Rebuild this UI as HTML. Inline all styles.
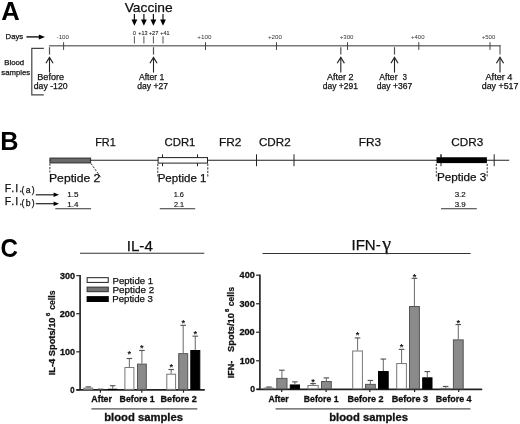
<!DOCTYPE html>
<html><head><meta charset="utf-8"><title>Figure</title><style>
html,body{margin:0;padding:0;background:#fff;}
body{width:520px;height:424px;overflow:hidden;}
svg{display:block;}
text{font-family:"Liberation Sans", Arial, Helvetica, sans-serif;}
</style></head><body>
<svg width="520" height="424" viewBox="0 0 520 424">
<rect width="520" height="424" fill="#fff"/>
<text x="1.36" y="19.5" font-size="25.2" font-weight="bold" fill="#000" textLength="18.51" lengthAdjust="spacingAndGlyphs">A</text>
<text x="124.66" y="11.8" font-size="13.3" stroke="#111" stroke-width="0.25" fill="#111" textLength="48.03" lengthAdjust="spacingAndGlyphs">Vaccine</text>
<line x1="134.4" y1="13.9" x2="134.4" y2="21" stroke="#111" stroke-width="1.2" />
<polygon points="131.5,19.6 137.3,19.6 134.4,25.7" fill="#000" stroke="none" stroke-width="1"/>
<line x1="134.4" y1="36.2" x2="134.4" y2="43.5" stroke="#555" stroke-width="1.0" />
<line x1="143.9" y1="13.9" x2="143.9" y2="21" stroke="#111" stroke-width="1.2" />
<polygon points="141,19.6 146.8,19.6 143.9,25.7" fill="#000" stroke="none" stroke-width="1"/>
<line x1="143.9" y1="36.2" x2="143.9" y2="43.5" stroke="#555" stroke-width="1.0" />
<line x1="153.4" y1="13.9" x2="153.4" y2="21" stroke="#111" stroke-width="1.2" />
<polygon points="150.5,19.6 156.3,19.6 153.4,25.7" fill="#000" stroke="none" stroke-width="1"/>
<line x1="153.4" y1="36.2" x2="153.4" y2="43.5" stroke="#555" stroke-width="1.0" />
<line x1="163" y1="13.9" x2="163" y2="21" stroke="#111" stroke-width="1.2" />
<polygon points="160.1,19.6 165.9,19.6 163,25.7" fill="#000" stroke="none" stroke-width="1"/>
<line x1="163" y1="36.2" x2="163" y2="43.5" stroke="#555" stroke-width="1.0" />
<text x="133.05" y="34.5" font-size="5.4" stroke="#222" stroke-width="0.1" fill="#222" textLength="2.91" lengthAdjust="spacingAndGlyphs">0</text>
<text x="138.28" y="34.5" font-size="5.4" stroke="#222" stroke-width="0.1" fill="#222" textLength="9.31" lengthAdjust="spacingAndGlyphs">+13</text>
<text x="148.77" y="34.5" font-size="5.4" stroke="#222" stroke-width="0.1" fill="#222" textLength="9.77" lengthAdjust="spacingAndGlyphs">+27</text>
<text x="160.29" y="34.5" font-size="5.4" stroke="#222" stroke-width="0.1" fill="#222" textLength="9.13" lengthAdjust="spacingAndGlyphs">+41</text>
<text x="5.59" y="39.4" font-size="7.9" stroke="#111" stroke-width="0.25" fill="#111" textLength="17.67" lengthAdjust="spacingAndGlyphs">Days</text>
<line x1="26.4" y1="36.9" x2="40" y2="36.9" stroke="#222" stroke-width="1.5" />
<polygon points="38.8,34.4 45,36.9 38.8,39.4" fill="#000" stroke="none" stroke-width="1"/>
<line x1="49.1" y1="45.8" x2="500.6" y2="45.8" stroke="#787878" stroke-width="1.6" />
<line x1="63.6" y1="42.2" x2="63.6" y2="49.9" stroke="#444" stroke-width="1.0" />
<text x="56.63" y="39" font-size="6" fill="#333" textLength="12.37" lengthAdjust="spacingAndGlyphs">-100</text>
<line x1="205.5" y1="42.2" x2="205.5" y2="49.9" stroke="#444" stroke-width="1.0" />
<text x="197.19" y="39" font-size="6" fill="#333" textLength="14.31" lengthAdjust="spacingAndGlyphs">+100</text>
<line x1="276.5" y1="42.2" x2="276.5" y2="49.9" stroke="#444" stroke-width="1.0" />
<text x="267.94" y="39" font-size="6" fill="#333" textLength="14.05" lengthAdjust="spacingAndGlyphs">+200</text>
<line x1="347.5" y1="42.2" x2="347.5" y2="49.9" stroke="#444" stroke-width="1.0" />
<text x="339.7" y="39" font-size="6" fill="#333" textLength="13.79" lengthAdjust="spacingAndGlyphs">+300</text>
<line x1="418.8" y1="42.2" x2="418.8" y2="49.9" stroke="#444" stroke-width="1.0" />
<text x="410.96" y="39" font-size="6" fill="#333" textLength="13.53" lengthAdjust="spacingAndGlyphs">+400</text>
<line x1="490" y1="42.2" x2="490" y2="49.9" stroke="#444" stroke-width="1.0" />
<text x="481.71" y="39" font-size="6" fill="#333" textLength="13.53" lengthAdjust="spacingAndGlyphs">+500</text>
<polyline points="43.8,48.4 31.8,48.4 31.8,94.9 43.8,94.9" fill="none" stroke="#444" stroke-width="1.2" />
<text x="4.29" y="64.8" font-size="7.8" stroke="#111" stroke-width="0.25" fill="#111" textLength="19.89" lengthAdjust="spacingAndGlyphs">Blood</text>
<text x="1.31" y="74.5" font-size="7.8" stroke="#111" stroke-width="0.25" fill="#111" textLength="28.84" lengthAdjust="spacingAndGlyphs">samples</text>
<line x1="49.5" y1="47.2" x2="49.5" y2="54.6" stroke="#505050" stroke-width="1.2" />
<line x1="49.5" y1="57.4" x2="49.5" y2="72.6" stroke="#222" stroke-width="1.1" />
<polyline points="45.9,63.3 49.5,57.4 53.1,63.3" fill="none" stroke="#222" stroke-width="1.15" />
<line x1="153.5" y1="47.2" x2="153.5" y2="54.6" stroke="#505050" stroke-width="1.2" />
<line x1="153.5" y1="57.4" x2="153.5" y2="72.6" stroke="#222" stroke-width="1.1" />
<polyline points="149.9,63.3 153.5,57.4 157.1,63.3" fill="none" stroke="#222" stroke-width="1.15" />
<line x1="340.8" y1="47.2" x2="340.8" y2="54.6" stroke="#505050" stroke-width="1.2" />
<line x1="340.8" y1="57.4" x2="340.8" y2="72.6" stroke="#222" stroke-width="1.1" />
<polyline points="337.2,63.3 340.8,57.4 344.4,63.3" fill="none" stroke="#222" stroke-width="1.15" />
<line x1="394.5" y1="47.2" x2="394.5" y2="54.6" stroke="#505050" stroke-width="1.2" />
<line x1="394.5" y1="57.4" x2="394.5" y2="72.6" stroke="#222" stroke-width="1.1" />
<polyline points="390.9,63.3 394.5,57.4 398.1,63.3" fill="none" stroke="#222" stroke-width="1.15" />
<line x1="500" y1="45" x2="500" y2="54.6" stroke="#606060" stroke-width="1.2" />
<line x1="500" y1="57.4" x2="500" y2="72.6" stroke="#222" stroke-width="1.1" />
<polyline points="496.4,63.3 500,57.4 503.6,63.3" fill="none" stroke="#222" stroke-width="1.15" />
<text x="37.28" y="80.4" font-size="9" stroke="#111" stroke-width="0.25" fill="#111" textLength="26.8" lengthAdjust="spacingAndGlyphs">Before</text>
<text x="33.76" y="89.3" font-size="9" stroke="#111" stroke-width="0.25" fill="#111" textLength="33.86" lengthAdjust="spacingAndGlyphs">day -120</text>
<text x="138.91" y="80.4" font-size="9" stroke="#111" stroke-width="0.25" fill="#111" textLength="25.49" lengthAdjust="spacingAndGlyphs">After 1</text>
<text x="137.26" y="89.3" font-size="9" stroke="#111" stroke-width="0.25" fill="#111" textLength="30.74" lengthAdjust="spacingAndGlyphs">day +27</text>
<text x="326.91" y="80.4" font-size="9" stroke="#111" stroke-width="0.25" fill="#111" textLength="26.52" lengthAdjust="spacingAndGlyphs">After 2</text>
<text x="322.77" y="89.3" font-size="9" stroke="#111" stroke-width="0.25" fill="#111" textLength="35.13" lengthAdjust="spacingAndGlyphs">day +291</text>
<text x="379.31" y="80.4" font-size="9" stroke="#111" stroke-width="0.25" fill="#111" textLength="18.21" lengthAdjust="spacingAndGlyphs">After</text>
<text x="402.84" y="80.4" font-size="9" stroke="#111" stroke-width="0.25" fill="#111" textLength="4.17" lengthAdjust="spacingAndGlyphs">3</text>
<text x="376.77" y="89.3" font-size="9" stroke="#111" stroke-width="0.25" fill="#111" textLength="35.44" lengthAdjust="spacingAndGlyphs">day +367</text>
<text x="485.51" y="80.4" font-size="9" stroke="#111" stroke-width="0.25" fill="#111" textLength="26.93" lengthAdjust="spacingAndGlyphs">After 4</text>
<text x="481.75" y="89.3" font-size="9" stroke="#111" stroke-width="0.25" fill="#111" textLength="36.67" lengthAdjust="spacingAndGlyphs">day +517</text>
<text x="0.36" y="149.6" font-size="25.5" font-weight="bold" fill="#000" textLength="18.28" lengthAdjust="spacingAndGlyphs">B</text>
<text x="95.23" y="146.25" font-size="11.8" stroke="#111" stroke-width="0.25" fill="#111" textLength="20.58" lengthAdjust="spacingAndGlyphs">FR1</text>
<text x="164.55" y="146.25" font-size="11.8" stroke="#111" stroke-width="0.25" fill="#111" textLength="30.88" lengthAdjust="spacingAndGlyphs">CDR1</text>
<text x="218.95" y="146.25" font-size="11.8" stroke="#111" stroke-width="0.25" fill="#111" textLength="22.42" lengthAdjust="spacingAndGlyphs">FR2</text>
<text x="258.93" y="146.25" font-size="11.8" stroke="#111" stroke-width="0.25" fill="#111" textLength="31.72" lengthAdjust="spacingAndGlyphs">CDR2</text>
<text x="358.66" y="146.25" font-size="11.8" stroke="#111" stroke-width="0.25" fill="#111" textLength="22.34" lengthAdjust="spacingAndGlyphs">FR3</text>
<text x="451.33" y="146.25" font-size="11.8" stroke="#111" stroke-width="0.25" fill="#111" textLength="31.86" lengthAdjust="spacingAndGlyphs">CDR3</text>
<line x1="49.5" y1="160.3" x2="509.2" y2="160.3" stroke="#222" stroke-width="1.1" />
<line x1="256.5" y1="154.3" x2="256.5" y2="166.2" stroke="#222" stroke-width="1.0" />
<line x1="294" y1="154.3" x2="294" y2="166.2" stroke="#222" stroke-width="1.0" />
<line x1="441" y1="154.3" x2="441" y2="166.2" stroke="#222" stroke-width="1.0" />
<line x1="494.2" y1="154.3" x2="494.2" y2="166.2" stroke="#222" stroke-width="1.0" />
<rect x="49.95" y="158.05" width="40.7" height="4.9" fill="#6a6a6a" stroke="#222" stroke-width="0.9"/>
<line x1="162.5" y1="154.4" x2="162.5" y2="166.2" stroke="#222" stroke-width="1.0" />
<line x1="197.5" y1="154.4" x2="197.5" y2="166.2" stroke="#222" stroke-width="1.0" />
<rect x="158.1" y="157.6" width="49.4" height="5.5" fill="#fff" stroke="#222" stroke-width="1.0"/>
<rect x="436.5" y="157.25" width="50.4" height="5.85" fill="#000" stroke="none" stroke-width="1"/>
<line x1="441" y1="154.4" x2="441" y2="157.4" stroke="#222" stroke-width="1.0" />
<line x1="49.9" y1="163.5" x2="49.9" y2="172.5" stroke="#333" stroke-width="1.0" stroke-dasharray="2.2,1.3"/>
<line x1="91" y1="163.5" x2="101.2" y2="178" stroke="#333" stroke-width="1.0" stroke-dasharray="2.2,1.3"/>
<line x1="157.8" y1="163.8" x2="157.8" y2="176.5" stroke="#333" stroke-width="1.0" stroke-dasharray="2.2,1.3"/>
<line x1="207.8" y1="163.8" x2="207.8" y2="176.5" stroke="#333" stroke-width="1.0" stroke-dasharray="2.2,1.3"/>
<line x1="436.3" y1="163.8" x2="436.3" y2="176.5" stroke="#333" stroke-width="1.0" stroke-dasharray="2.2,1.3"/>
<line x1="487.2" y1="163.8" x2="487.2" y2="176.5" stroke="#333" stroke-width="1.0" stroke-dasharray="2.2,1.3"/>
<text x="49.03" y="181.6" font-size="11.3" stroke="#111" stroke-width="0.25" fill="#111" textLength="51.36" lengthAdjust="spacingAndGlyphs">Peptide 2</text>
<text x="157.68" y="181.6" font-size="11.3" stroke="#111" stroke-width="0.25" fill="#111" textLength="48.77" lengthAdjust="spacingAndGlyphs">Peptide 1</text>
<text x="436.91" y="181.4" font-size="11.3" stroke="#111" stroke-width="0.25" fill="#111" textLength="49.48" lengthAdjust="spacingAndGlyphs">Peptide 3</text>
<text x="4.76" y="192.1" font-size="10.6" stroke="#111" stroke-width="0.25" fill="#111" textLength="17.38" lengthAdjust="spacing">F.I.</text>
<text x="21.49" y="193" font-size="8.6" stroke="#111" stroke-width="0.25" fill="#111" textLength="13.22" lengthAdjust="spacing">(a)</text>
<text x="4.76" y="205.2" font-size="10.6" stroke="#111" stroke-width="0.25" fill="#111" textLength="17.38" lengthAdjust="spacing">F.I.</text>
<text x="21.49" y="206.1" font-size="8.6" stroke="#111" stroke-width="0.25" fill="#111" textLength="13.22" lengthAdjust="spacing">(b)</text>
<line x1="35.8" y1="194.8" x2="55" y2="194.8" stroke="#222" stroke-width="1.2" />
<polygon points="53.6,192.6 59,194.8 53.6,197" fill="#000" stroke="none" stroke-width="1"/>
<line x1="35.8" y1="203.7" x2="55" y2="203.7" stroke="#222" stroke-width="1.2" />
<polygon points="53.6,201.5 59,203.7 53.6,205.9" fill="#000" stroke="none" stroke-width="1"/>
<text x="67.26" y="196.8" font-size="7.5" stroke="#111" stroke-width="0.15" fill="#111" textLength="11.31" lengthAdjust="spacingAndGlyphs">1.5</text>
<text x="67.26" y="206.7" font-size="7.5" stroke="#111" stroke-width="0.15" fill="#111" textLength="11.2" lengthAdjust="spacingAndGlyphs">1.4</text>
<line x1="55.3" y1="208.7" x2="91.1" y2="208.7" stroke="#333" stroke-width="1.1" />
<text x="173.72" y="196.8" font-size="7.5" stroke="#111" stroke-width="0.15" fill="#111" textLength="10.23" lengthAdjust="spacingAndGlyphs">1.6</text>
<text x="173.91" y="206.7" font-size="7.5" stroke="#111" stroke-width="0.15" fill="#111" textLength="10.07" lengthAdjust="spacingAndGlyphs">2.1</text>
<line x1="159.8" y1="208.7" x2="195.2" y2="208.7" stroke="#333" stroke-width="1.1" />
<text x="454.67" y="196.8" font-size="7.5" stroke="#111" stroke-width="0.15" fill="#111" textLength="11.05" lengthAdjust="spacingAndGlyphs">3.2</text>
<text x="454.67" y="206.7" font-size="7.5" stroke="#111" stroke-width="0.15" fill="#111" textLength="11.03" lengthAdjust="spacingAndGlyphs">3.9</text>
<line x1="441" y1="208.7" x2="476.8" y2="208.7" stroke="#333" stroke-width="1.1" />
<text x="0.51" y="256.8" font-size="25.5" font-weight="bold" fill="#000" textLength="17.45" lengthAdjust="spacingAndGlyphs">C</text>
<text x="126.73" y="250.75" font-size="14.8" stroke="#111" stroke-width="0.25" fill="#111" textLength="26.08" lengthAdjust="spacingAndGlyphs">IL-4</text>
<line x1="80" y1="253.3" x2="204.3" y2="253.3" stroke="#333" stroke-width="1.1" />
<text x="351.54" y="250" font-size="14.7" stroke="#111" stroke-width="0.25" fill="#111" textLength="29.19" lengthAdjust="spacingAndGlyphs">IFN-</text>
<text x="382.24" y="249.6" font-size="18.9" stroke="#111" stroke-width="0.25" style="font-family:'Liberation Serif', serif" fill="#111" textLength="8.79" lengthAdjust="spacingAndGlyphs">γ</text>
<line x1="262.5" y1="253.5" x2="470.6" y2="253.5" stroke="#333" stroke-width="1.1" />
<line x1="80.1" y1="275" x2="80.1" y2="389.9" stroke="#333" stroke-width="1.8" />
<line x1="76.3" y1="275.6" x2="80.1" y2="275.6" stroke="#333" stroke-width="1.3" />
<text x="60.04" y="278.75" font-size="9.2" font-weight="bold" stroke="#111" stroke-width="0.3" fill="#111" textLength="15.08" lengthAdjust="spacingAndGlyphs">300</text>
<line x1="76.3" y1="313.7" x2="80.1" y2="313.7" stroke="#333" stroke-width="1.3" />
<text x="59.73" y="316.85" font-size="9.2" font-weight="bold" stroke="#111" stroke-width="0.3" fill="#111" textLength="15.3" lengthAdjust="spacingAndGlyphs">200</text>
<line x1="76.3" y1="351.8" x2="80.1" y2="351.8" stroke="#333" stroke-width="1.3" />
<text x="60.09" y="354.95" font-size="9.2" font-weight="bold" stroke="#111" stroke-width="0.3" fill="#111" textLength="14.94" lengthAdjust="spacingAndGlyphs">100</text>
<line x1="76.3" y1="389.9" x2="80.1" y2="389.9" stroke="#333" stroke-width="1.3" />
<text x="70.34" y="393.05" font-size="9.2" font-weight="bold" stroke="#111" stroke-width="0.3" fill="#111" textLength="4.33" lengthAdjust="spacingAndGlyphs">0</text>
<line x1="76.3" y1="389.9" x2="204.8" y2="389.9" stroke="#222" stroke-width="1.8" />
<line x1="100.4" y1="389.9" x2="100.4" y2="392.7" stroke="#222" stroke-width="1.2" />
<line x1="141.8" y1="389.9" x2="141.8" y2="392.7" stroke="#222" stroke-width="1.2" />
<line x1="183.5" y1="389.9" x2="183.5" y2="392.7" stroke="#222" stroke-width="1.2" />
<text x="91.33" y="401.8" font-size="9.2" font-weight="bold" stroke="#111" stroke-width="0.3" fill="#111" textLength="20.66" lengthAdjust="spacingAndGlyphs">After</text>
<text x="119.56" y="401.8" font-size="9.2" font-weight="bold" stroke="#111" stroke-width="0.3" fill="#111" textLength="35.14" lengthAdjust="spacingAndGlyphs">Before 1</text>
<text x="160.54" y="401.8" font-size="9.2" font-weight="bold" stroke="#111" stroke-width="0.3" fill="#111" textLength="36.38" lengthAdjust="spacingAndGlyphs">Before 2</text>
<line x1="91.4" y1="408.9" x2="197.3" y2="408.9" stroke="#555" stroke-width="1.3" />
<text x="104.21" y="420.5" font-size="10.9" font-weight="bold" stroke="#111" stroke-width="0.3" fill="#111" textLength="78.81" lengthAdjust="spacingAndGlyphs">blood samples</text>
<rect x="83.9" y="388.11" width="8.9" height="1.29" fill="#fff" stroke="#777" stroke-width="1.0"/>
<line x1="88.35" y1="386.85" x2="88.35" y2="387.61" stroke="#7a7a7a" stroke-width="1.15" />
<line x1="85.55" y1="386.85" x2="91.15" y2="386.85" stroke="#555" stroke-width="1.15" />
<rect x="96.3" y="390.02" width="8.5" height="-0.62" fill="#8a8a8a" stroke="#555" stroke-width="1.0"/>
<line x1="100.55" y1="389.14" x2="100.55" y2="389.52" stroke="#7a7a7a" stroke-width="1.15" />
<line x1="97.75" y1="389.14" x2="103.35" y2="389.14" stroke="#555" stroke-width="1.15" />
<rect x="108.4" y="389.26" width="8.5" height="0.14" fill="#000" stroke="#000" stroke-width="1.0"/>
<line x1="112.65" y1="385.71" x2="112.65" y2="388.76" stroke="#7a7a7a" stroke-width="1.15" />
<line x1="109.85" y1="385.71" x2="115.45" y2="385.71" stroke="#555" stroke-width="1.15" />
<rect x="124.9" y="367.54" width="9" height="21.86" fill="#fff" stroke="#777" stroke-width="1.0"/>
<line x1="129.4" y1="358.51" x2="129.4" y2="367.04" stroke="#7a7a7a" stroke-width="1.15" />
<line x1="126.6" y1="358.51" x2="132.2" y2="358.51" stroke="#555" stroke-width="1.15" />
<text x="127.6" y="356.92" font-size="9.2" font-weight="bold" fill="#111">*</text>
<rect x="137.5" y="364.11" width="8.8" height="25.29" fill="#8a8a8a" stroke="#555" stroke-width="1.0"/>
<line x1="141.9" y1="350.47" x2="141.9" y2="363.61" stroke="#7a7a7a" stroke-width="1.15" />
<line x1="139.1" y1="350.47" x2="144.7" y2="350.47" stroke="#555" stroke-width="1.15" />
<text x="140.1" y="350.62" font-size="9.2" font-weight="bold" fill="#111">*</text>
<rect x="166.8" y="374.21" width="8.8" height="15.19" fill="#fff" stroke="#777" stroke-width="1.0"/>
<line x1="171.2" y1="369.52" x2="171.2" y2="373.71" stroke="#7a7a7a" stroke-width="1.15" />
<line x1="168.4" y1="369.52" x2="174" y2="369.52" stroke="#555" stroke-width="1.15" />
<text x="169.4" y="369.82" font-size="9.2" font-weight="bold" fill="#111">*</text>
<rect x="178.7" y="353.63" width="9" height="35.77" fill="#8a8a8a" stroke="#555" stroke-width="1.0"/>
<line x1="183.2" y1="325.32" x2="183.2" y2="353.13" stroke="#7a7a7a" stroke-width="1.15" />
<line x1="180.4" y1="325.32" x2="186" y2="325.32" stroke="#555" stroke-width="1.15" />
<text x="181.4" y="326.32" font-size="9.2" font-weight="bold" fill="#111">*</text>
<rect x="190.8" y="350.51" width="9" height="38.89" fill="#000" stroke="#000" stroke-width="1.0"/>
<line x1="195.3" y1="336.18" x2="195.3" y2="350.01" stroke="#7a7a7a" stroke-width="1.15" />
<line x1="192.5" y1="336.18" x2="198.1" y2="336.18" stroke="#555" stroke-width="1.15" />
<text x="193.5" y="337.32" font-size="9.2" font-weight="bold" fill="#111">*</text>
<text transform="translate(54.7,374.65) rotate(-90)" x="-0.62" y="0" font-size="9.5" font-weight="bold" stroke="#111" stroke-width="0.3" fill="#111" textLength="57.7" lengthAdjust="spacingAndGlyphs">IL-4 Spots/10</text>
<text transform="translate(50.2,315.95) rotate(-90)" x="-0.24" y="0" font-size="6" font-weight="bold" stroke="#111" stroke-width="0.3" fill="#111" textLength="3.57" lengthAdjust="spacingAndGlyphs">6</text>
<text transform="translate(54.6,309.5) rotate(-90)" x="-0.34" y="0" font-size="9" font-weight="bold" stroke="#111" stroke-width="0.2" fill="#111" textLength="19.3" lengthAdjust="spacingAndGlyphs">cells</text>
<rect x="87.15" y="277.65" width="21.1" height="4.8" fill="#fff" stroke="#333" stroke-width="1.1"/>
<rect x="87.15" y="287.15" width="21.1" height="4.5" fill="#747474" stroke="#3a3a3a" stroke-width="1.1"/>
<rect x="86.6" y="296.1" width="22.2" height="5.9" fill="#000" stroke="none" stroke-width="1"/>
<text x="112.54" y="283.7" font-size="9.6" stroke="#111" stroke-width="0.25" fill="#111" textLength="40.51" lengthAdjust="spacingAndGlyphs">Peptide 1</text>
<text x="112.51" y="292.5" font-size="9.6" stroke="#111" stroke-width="0.25" fill="#111" textLength="41.76" lengthAdjust="spacingAndGlyphs">Peptide 2</text>
<text x="112.23" y="302" font-size="9.6" stroke="#111" stroke-width="0.25" fill="#111" textLength="40.77" lengthAdjust="spacingAndGlyphs">Peptide 3</text>
<line x1="259.9" y1="274.6" x2="259.9" y2="389.3" stroke="#333" stroke-width="1.8" />
<line x1="256.1" y1="275.2" x2="259.9" y2="275.2" stroke="#333" stroke-width="1.3" />
<text x="239.61" y="278.35" font-size="9.2" font-weight="bold" stroke="#111" stroke-width="0.3" fill="#111" textLength="15.11" lengthAdjust="spacingAndGlyphs">400</text>
<line x1="256.1" y1="303.73" x2="259.9" y2="303.73" stroke="#333" stroke-width="1.3" />
<text x="239.54" y="306.88" font-size="9.2" font-weight="bold" stroke="#111" stroke-width="0.3" fill="#111" textLength="15.19" lengthAdjust="spacingAndGlyphs">300</text>
<line x1="256.1" y1="332.25" x2="259.9" y2="332.25" stroke="#333" stroke-width="1.3" />
<text x="239.43" y="335.4" font-size="9.2" font-weight="bold" stroke="#111" stroke-width="0.3" fill="#111" textLength="15.3" lengthAdjust="spacingAndGlyphs">200</text>
<line x1="256.1" y1="360.77" x2="259.9" y2="360.77" stroke="#333" stroke-width="1.3" />
<text x="239.79" y="363.92" font-size="9.2" font-weight="bold" stroke="#111" stroke-width="0.3" fill="#111" textLength="14.94" lengthAdjust="spacingAndGlyphs">100</text>
<line x1="256.1" y1="389.3" x2="259.9" y2="389.3" stroke="#333" stroke-width="1.3" />
<text x="250.2" y="392.45" font-size="9.2" font-weight="bold" stroke="#111" stroke-width="0.3" fill="#111" textLength="4.8" lengthAdjust="spacingAndGlyphs">0</text>
<line x1="256.7" y1="389.3" x2="482.2" y2="389.3" stroke="#222" stroke-width="1.8" />
<line x1="281.7" y1="389.3" x2="281.7" y2="392.1" stroke="#222" stroke-width="1.2" />
<line x1="326.1" y1="389.3" x2="326.1" y2="392.1" stroke="#222" stroke-width="1.2" />
<line x1="369.8" y1="389.3" x2="369.8" y2="392.1" stroke="#222" stroke-width="1.2" />
<line x1="414.6" y1="389.3" x2="414.6" y2="392.1" stroke="#222" stroke-width="1.2" />
<line x1="458.7" y1="389.3" x2="458.7" y2="392.1" stroke="#222" stroke-width="1.2" />
<text x="268.43" y="401.8" font-size="9.2" font-weight="bold" stroke="#111" stroke-width="0.3" fill="#111" textLength="20.25" lengthAdjust="spacingAndGlyphs">After</text>
<text x="303.87" y="401.8" font-size="9.2" font-weight="bold" stroke="#111" stroke-width="0.3" fill="#111" textLength="34.63" lengthAdjust="spacingAndGlyphs">Before 1</text>
<text x="347.44" y="401.8" font-size="9.2" font-weight="bold" stroke="#111" stroke-width="0.3" fill="#111" textLength="36.17" lengthAdjust="spacingAndGlyphs">Before 2</text>
<text x="391.64" y="401.8" font-size="9.2" font-weight="bold" stroke="#111" stroke-width="0.3" fill="#111" textLength="36.44" lengthAdjust="spacingAndGlyphs">Before 3</text>
<text x="435.75" y="401.8" font-size="9.2" font-weight="bold" stroke="#111" stroke-width="0.3" fill="#111" textLength="35.85" lengthAdjust="spacingAndGlyphs">Before 4</text>
<line x1="275.6" y1="408.9" x2="470.5" y2="408.9" stroke="#555" stroke-width="1.3" />
<text x="329.21" y="420.5" font-size="10.9" font-weight="bold" stroke="#111" stroke-width="0.3" fill="#111" textLength="78.81" lengthAdjust="spacingAndGlyphs">blood samples</text>
<rect x="264.1" y="388.09" width="9.6" height="0.71" fill="#fff" stroke="#777" stroke-width="1.0"/>
<line x1="268.9" y1="387.02" x2="268.9" y2="387.59" stroke="#7a7a7a" stroke-width="1.15" />
<line x1="266.1" y1="387.02" x2="271.7" y2="387.02" stroke="#555" stroke-width="1.15" />
<rect x="276.8" y="378.39" width="10.2" height="10.41" fill="#8a8a8a" stroke="#555" stroke-width="1.0"/>
<line x1="281.9" y1="370.19" x2="281.9" y2="377.89" stroke="#7a7a7a" stroke-width="1.15" />
<line x1="279.1" y1="370.19" x2="284.7" y2="370.19" stroke="#555" stroke-width="1.15" />
<rect x="290.3" y="384.95" width="9.2" height="3.85" fill="#000" stroke="#000" stroke-width="1.0"/>
<line x1="294.9" y1="381.88" x2="294.9" y2="384.45" stroke="#7a7a7a" stroke-width="1.15" />
<line x1="292.1" y1="381.88" x2="297.7" y2="381.88" stroke="#555" stroke-width="1.15" />
<rect x="307.9" y="385.52" width="10.3" height="3.28" fill="#fff" stroke="#777" stroke-width="1.0"/>
<line x1="313.05" y1="383.6" x2="313.05" y2="385.02" stroke="#7a7a7a" stroke-width="1.15" />
<line x1="310.25" y1="383.6" x2="315.85" y2="383.6" stroke="#555" stroke-width="1.15" />
<text x="311.25" y="384.62" font-size="9.2" font-weight="bold" fill="#111">*</text>
<rect x="321.5" y="381.53" width="9.8" height="7.27" fill="#8a8a8a" stroke="#555" stroke-width="1.0"/>
<line x1="326.4" y1="377.89" x2="326.4" y2="381.03" stroke="#7a7a7a" stroke-width="1.15" />
<line x1="323.6" y1="377.89" x2="329.2" y2="377.89" stroke="#555" stroke-width="1.15" />
<rect x="352.7" y="351.01" width="9.7" height="37.79" fill="#fff" stroke="#777" stroke-width="1.0"/>
<line x1="357.55" y1="337.95" x2="357.55" y2="350.51" stroke="#7a7a7a" stroke-width="1.15" />
<line x1="354.75" y1="337.95" x2="360.35" y2="337.95" stroke="#555" stroke-width="1.15" />
<text x="355.75" y="338.42" font-size="9.2" font-weight="bold" fill="#111">*</text>
<rect x="365.5" y="384.38" width="9.8" height="4.42" fill="#8a8a8a" stroke="#555" stroke-width="1.0"/>
<line x1="370.4" y1="380.46" x2="370.4" y2="383.88" stroke="#7a7a7a" stroke-width="1.15" />
<line x1="367.6" y1="380.46" x2="373.2" y2="380.46" stroke="#555" stroke-width="1.15" />
<rect x="378.5" y="371.54" width="9.7" height="17.26" fill="#000" stroke="#000" stroke-width="1.0"/>
<line x1="383.35" y1="359.06" x2="383.35" y2="371.04" stroke="#7a7a7a" stroke-width="1.15" />
<line x1="380.55" y1="359.06" x2="386.15" y2="359.06" stroke="#555" stroke-width="1.15" />
<rect x="396.7" y="363.56" width="9.7" height="25.24" fill="#fff" stroke="#777" stroke-width="1.0"/>
<line x1="401.55" y1="349.37" x2="401.55" y2="363.06" stroke="#7a7a7a" stroke-width="1.15" />
<line x1="398.75" y1="349.37" x2="404.35" y2="349.37" stroke="#555" stroke-width="1.15" />
<text x="399.75" y="349.72" font-size="9.2" font-weight="bold" fill="#111">*</text>
<rect x="409.5" y="306.51" width="9.9" height="82.29" fill="#8a8a8a" stroke="#555" stroke-width="1.0"/>
<line x1="414.45" y1="278.34" x2="414.45" y2="306.01" stroke="#7a7a7a" stroke-width="1.15" />
<line x1="411.65" y1="278.34" x2="417.25" y2="278.34" stroke="#555" stroke-width="1.15" />
<text x="412.65" y="279.52" font-size="9.2" font-weight="bold" fill="#111">*</text>
<rect x="422.7" y="377.82" width="9.3" height="10.98" fill="#000" stroke="#000" stroke-width="1.0"/>
<line x1="427.35" y1="371.61" x2="427.35" y2="377.32" stroke="#7a7a7a" stroke-width="1.15" />
<line x1="424.55" y1="371.61" x2="430.15" y2="371.61" stroke="#555" stroke-width="1.15" />
<rect x="440.7" y="388.37" width="9.8" height="0.43" fill="#fff" stroke="#777" stroke-width="1.0"/>
<line x1="445.6" y1="386.45" x2="445.6" y2="387.87" stroke="#7a7a7a" stroke-width="1.15" />
<line x1="442.8" y1="386.45" x2="448.4" y2="386.45" stroke="#555" stroke-width="1.15" />
<rect x="453.4" y="339.88" width="9.8" height="48.92" fill="#8a8a8a" stroke="#555" stroke-width="1.0"/>
<line x1="458.3" y1="324.55" x2="458.3" y2="339.38" stroke="#7a7a7a" stroke-width="1.15" />
<line x1="455.5" y1="324.55" x2="461.1" y2="324.55" stroke="#555" stroke-width="1.15" />
<text x="456.5" y="325.82" font-size="9.2" font-weight="bold" fill="#111">*</text>
<text transform="translate(234.4,377.75) rotate(-90)" x="-0.61" y="0" font-size="9.5" font-weight="bold" stroke="#111" stroke-width="0.3" fill="#111" textLength="17.67" lengthAdjust="spacingAndGlyphs">IFN-</text>
<text transform="translate(234.4,351.65) rotate(-90)" x="-0.27" y="0" font-size="9.5" font-weight="bold" stroke="#111" stroke-width="0.3" fill="#111" textLength="38.85" lengthAdjust="spacingAndGlyphs">Spots/10</text>
<text transform="translate(229.4,311.75) rotate(-90)" x="-0.21" y="0" font-size="6" font-weight="bold" stroke="#111" stroke-width="0.3" fill="#111" textLength="3.22" lengthAdjust="spacingAndGlyphs">6</text>
<text transform="translate(234.4,305.9) rotate(-90)" x="-0.34" y="0" font-size="9" font-weight="bold" stroke="#111" stroke-width="0.2" fill="#111" textLength="19.19" lengthAdjust="spacingAndGlyphs">cells</text>
</svg>
</body></html>
